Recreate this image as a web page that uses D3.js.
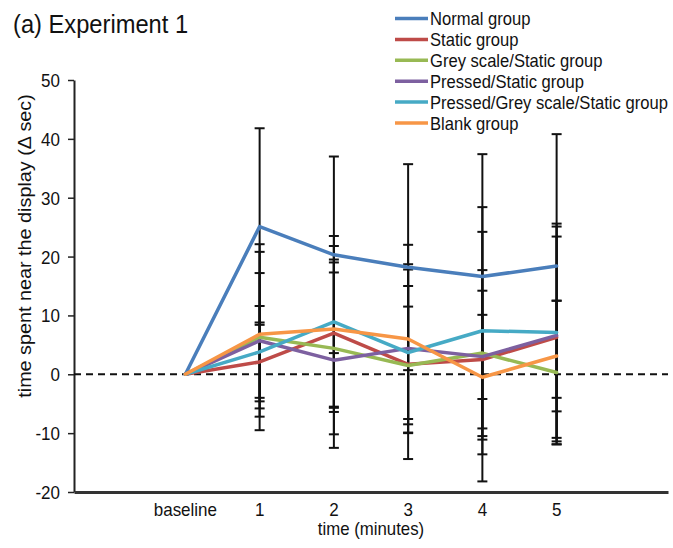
<!DOCTYPE html>
<html>
<head>
<meta charset="utf-8">
<script src="https://cdn.jsdelivr.net/npm/d3@7"></script>
<style>
  body { margin: 0; background: #fff; }
  text { font-family: "Liberation Sans", Arial, sans-serif; fill: #111; }
</style>
</head>
<body>
<div id="chart"></div>
<script>
'use strict';

// time points on the x axis
const timeLabels = ["baseline", "1", "2", "3", "4", "5"];
const yTicks = [-20, -10, 0, 10, 20, 30, 40, 50];

const groupNames = ["Normal group", "Static group", "Grey scale/Static group",
  "Pressed/Static group", "Pressed/Grey scale/Static group", "Blank group"];
const groupColors = ["#4a7ebb", "#be4b48", "#98b954", "#7d60a0", "#46aac5", "#f79646"];

// mean change in time near the display (sec)
const normalMean      = [0, 25.1, 20.3, 18.2, 16.6, 18.4];
const staticMean      = [0, 2.1, 7.0, 1.7, 2.5, 6.3];
const greyMean        = [0, 6.3, 4.4, 1.5, 3.6, 0.3];
const pressedMean     = [0, 5.7, 2.4, 4.4, 3.0, 6.6];
const pressedGreyMean = [0, 3.8, 8.9, 3.7, 7.4, 7.1];
const blankMean       = [0, 6.8, 7.7, 6.0, -0.5, 3.1];

// error bar half widths
const normalErr      = [0, 16.7, 16.7, 17.5, 20.8, 22.4];
const staticErr      = [0, 6.7, 12.5, 16.1, 11.7, 17.1];
const greyErr        = [0, 15.8, 14.6, 10.0, 14.1, 12.2];
const pressedErr     = [0, 11.5, 14.9, 14.3, 21.2, 18.5];
const pressedGreyErr = [0, 7.8, 14.6, 11.3, 21.0, 18.5];
const blankErr       = [0, 14.0, 14.1, 16.0, 10.6, 9.4];

const means = [normalMean, staticMean, greyMean, pressedMean, pressedGreyMean, blankMean];
const errs = [normalErr, staticErr, greyErr, pressedErr, pressedGreyErr, blankErr];

const series = groupNames.map((name, i) => ({
  name: name,
  color: groupColors[i],
  values: timeLabels.map((t, j) => ({ t: t, m: means[i][j], e: errs[i][j] }))
}));

const W = 673, H = 548;
const stretch = 1.1; // text in the picture is a bit tall

const svg = d3.select('#chart').append('svg')
  .attr('width', W)
  .attr('height', H);

svg.append('rect').attr('width', W).attr('height', H).attr('fill', '#fff');

// empty slots either side of the data
let xScale = d3.scaleBand()
  .domain(["_l"].concat(timeLabels, ["_r"]))
  .range([74, 668]);
let xMid = (t) => xScale(t) + xScale.bandwidth() / 2;

let yScale = d3.scaleLinear()
  .domain([-20, 50])
  .range([492, 80]);

// y axis (plain hyphen for negatives, like the original)
let yAxis = d3.axisLeft(yScale)
  .tickValues(yTicks)
  .tickFormat((d) => String(d))
  .tickSize(6)
  .tickSizeOuter(0);
let gy = svg.append('g')
  .attr('transform', 'translate(74, 0)')
  .call(yAxis);
gy.select('.domain').attr('stroke', '#222').attr('stroke-width', 2);
gy.selectAll('.tick line').attr('stroke', '#222').attr('stroke-width', 1.5);
gy.selectAll('.tick text')
  .attr('x', 0).attr('dy', null).attr('y', 0)
  .attr('transform', `translate(-14, 6.5) scale(1, ${stretch})`)
  .style('font-size', '17px')
  .style('font-family', '"Liberation Sans", Arial, sans-serif')
  .attr('fill', '#111');

// zero line
svg.append('line')
  .attr('x1', 74).attr('x2', 668)
  .attr('y1', yScale(0)).attr('y2', yScale(0))
  .attr('stroke', '#111')
  .attr('stroke-width', 2)
  .attr('stroke-dasharray', '7,5');

// x axis
let xAxis = d3.axisBottom(xScale).tickValues(timeLabels).tickSize(0).tickSizeOuter(0);
let gx = svg.append('g')
  .attr('transform', 'translate(0, 492)')
  .call(xAxis);
gx.select('.domain').attr('stroke', '#333').attr('stroke-width', 3);
gx.selectAll('.tick text')
  .attr('y', 0).attr('dy', null)
  .attr('transform', `translate(0, 24) scale(1, ${stretch})`)
  .style('font-size', '17px')
  .style('font-family', '"Liberation Sans", Arial, sans-serif')
  .attr('fill', '#111');

// error bars
series.forEach((s) => {
  let g = svg.append('g');
  let pts = s.values.filter((d) => d.e > 0);
  g.selectAll('.bar').data(pts).enter().append('line')
    .attr('x1', (d) => xMid(d.t)).attr('x2', (d) => xMid(d.t))
    .attr('y1', (d) => yScale(d.m + d.e)).attr('y2', (d) => yScale(d.m - d.e))
    .attr('stroke', '#111').attr('stroke-width', 2);
  [1, -1].forEach((sign) => {
    g.selectAll('.cap' + sign).data(pts).enter().append('line')
      .attr('x1', (d) => xMid(d.t) - 5).attr('x2', (d) => xMid(d.t) + 5)
      .attr('y1', (d) => yScale(d.m + sign * d.e)).attr('y2', (d) => yScale(d.m + sign * d.e))
      .attr('stroke', '#111').attr('stroke-width', 2);
  });
});

// lines
let line = d3.line()
  .x((d) => xMid(d.t))
  .y((d) => yScale(d.m));

series.forEach((s) => {
  svg.append('path')
    .datum(s.values)
    .attr('fill', 'none')
    .attr('stroke', s.color)
    .attr('stroke-width', 3.5)
    .attr('stroke-linejoin', 'round')
    .attr('stroke-linecap', 'round')
    .attr('d', line);
});

// legend
let legend = svg.append('g');
series.forEach((s, i) => {
  let y = 25 + i * 20.9;
  legend.append('line')
    .attr('x1', 395).attr('x2', 428)
    .attr('y1', y - 6.5).attr('y2', y - 6.5)
    .attr('stroke', s.color).attr('stroke-width', 3.5);
  legend.append('text')
    .attr('transform', `translate(430, ${y}) scale(1, ${stretch})`)
    .style('font-size', '16.6px')
    .text(s.name);
});

// title and axis labels
svg.append('text')
  .attr('transform', `translate(13, 33) scale(1, ${stretch})`)
  .style('font-size', '23.7px')
  .text('(a) Experiment 1');

svg.append('text')
  .attr('transform', `translate(371, 535) scale(1, ${stretch})`)
  .attr('text-anchor', 'middle')
  .style('font-size', '16.8px')
  .text('time (minutes)');

svg.append('text')
  .attr('transform', `translate(31, 246) rotate(-90) scale(${stretch}, 1)`)
  .attr('text-anchor', 'middle')
  .style('font-size', '18px')
  .text('time spent near the display (\u0394 sec)');
</script>
</body>
</html>
